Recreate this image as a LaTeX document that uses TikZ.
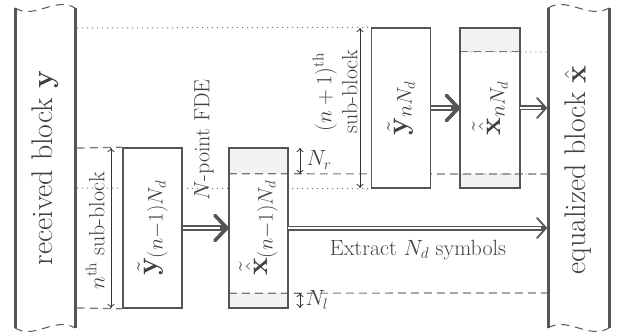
\RequirePackage{fix-cm}
\documentclass[tikz,border=0pt]{standalone}
\usepackage{amsmath}
\usetikzlibrary{arrows.meta}
\definecolor{ln}{HTML}{555555}
\definecolor{tx}{HTML}{404040}
\definecolor{shd}{HTML}{F2F2F2}
\definecolor{dl}{HTML}{777777}
\begin{document}
\begin{tikzpicture}[x=1pt,y=-1pt,
  every node/.style={text=tx, font=\fontsize{22}{26}\selectfont},
  bigfont/.style={font=\fontsize{29.86}{32}\selectfont},
  blockside/.style={draw=ln, line width=3pt},
  blockend/.style={draw=ln, line width=1pt, dash pattern=on 8pt off 6pt},
  ybox/.style={draw=ln, line width=1.5pt, fill=white, minimum width=59pt, minimum height=160pt, inner sep=0pt},
  xbox/.style={fill=white, minimum width=59pt, minimum height=160pt, inner sep=0pt},
  xborder/.style={draw=ln, line width=2pt},
  dashln/.style={draw=dl, line width=1.2pt, dash pattern=on 8pt off 5pt},
  dotln/.style={draw=dl, line width=1pt, dash pattern=on 1pt off 4pt},
  span/.style={draw=black!80, line width=0.8pt, {To[length=4pt,width=7pt]}-{To[length=4pt,width=7pt]}},
  fatarrow/.style={draw=ln, line width=6pt, -{Straight Barb[length=12pt, width=25pt, line width=3.6pt, round]}},
  fatgap/.style={draw=white, line width=2pt, shorten >=9pt},
  thinarrow/.style={draw=ln, line width=5pt, -{Straight Barb[length=9pt, width=20pt, line width=1.8pt, round]}},
  thingap/.style={draw=white, line width=2pt, shorten >=6pt}
]
\useasboundingbox (0,0) rectangle (627,334);

% big blocks
\draw[blockside] (15,8) -- (15,328);
\draw[blockside] (75,8) -- (75,328);
\draw[blockend] (15,8) .. controls (35,20) and (55,-4) .. (75,8);
\draw[blockend] (15,328) .. controls (35,340) and (55,316) .. (75,328);
\draw[blockside] (548,8) -- (548,328);
\draw[blockside] (609,8) -- (609,328);
\draw[blockend] (548,8) .. controls (568,-4) and (589,20) .. (609,8);
\draw[blockend] (548,328) .. controls (568,316) and (589,340) .. (609,328);

\node[bigfont, rotate=90] (rx) at (45,168) {received block $\mathbf{y}$};
\node[bigfont, rotate=90] (eq) at (578,170) {equalized block $\hat{\mathbf{x}}$};

% coordinates
\coordinate (L28) at (77,28);
\coordinate (L188) at (77,188);
\coordinate (L148) at (77,148);
\coordinate (L308) at (77,308);
\coordinate (R174) at (547,174);
\coordinate (R293) at (547,293);
\coordinate (R52) at (547,52);
\coordinate (R228) at (547,228);
\coordinate (R108) at (547,108);

% dotted sub-block boundaries
\node[ybox, draw=none, fill=none] (yb2p) at (401,108) {};
\draw[dotln] (L28) -- (yb2p.north west);
\draw[dotln] (L188) -- (yb2p.south west);

% boxes of sub-block n
\node[ybox] (yb1) at (152.5,228) {};
\draw[dashln] (L148) -- (yb1.north west);
\draw[dashln] (L308) -- (yb1.south west);
\node[xbox] (xb1) at (258.5,228) {};
\fill[shd] (xb1.north west) rectangle ([yshift=-26pt]xb1.north east);
\fill[shd] (xb1.south west) rectangle ([yshift=15pt]xb1.south east);
\node[xbox] (xb2) at (490,108) {};
\fill[shd] (xb2.north west) rectangle ([yshift=-24pt]xb2.north east);
\fill[shd] (xb2.south west) rectangle ([yshift=14pt]xb2.south east);

% guide lines
\draw[dashln] ([yshift=-26pt]xb1.north west) -- (R174);
\draw[dashln] ([yshift=15pt]xb1.south west) -- (R293);
\draw[dashln] ([yshift=-24pt]xb2.north west) -- ([yshift=-24pt]xb2.north east);
\draw[dotln] ([yshift=-24pt]xb2.north west) -- (R52);
\draw[dotln] ([yshift=14pt]xb2.south west) -- (R174);

\node[ybox] (yb2) at (401,108) {};
\draw[xborder] (xb1.north west) rectangle (xb1.south east);
\draw[xborder] (xb2.north west) rectangle (xb2.south east);

% labels inside boxes
\node[bigfont, rotate=90] (ly1) at (yb1) {$\tilde{\mathbf{y}}_{(n-1)N_d}$};
\node[bigfont, rotate=90] (lx1) at (xb1) {$\tilde{\hat{\mathbf{x}}}_{(n-1)N_d}$};
\node[bigfont, rotate=90] (ly2) at (yb2) {$\tilde{\mathbf{y}}_{nN_d}$};
\node[bigfont, rotate=90] (lx2) at (xb2) {$\tilde{\hat{\mathbf{x}}}_{nN_d}$};

% arrows
\draw[fatarrow] (yb1.east) -- (xb1.west);
\draw[fatgap] (yb1.east) -- (xb1.west);
\draw[fatarrow] (yb2.east) -- (xb2.west);
\draw[fatgap] (yb2.east) -- (xb2.west);
\draw[thinarrow] (xb1.east) -- (R228);
\draw[thingap] (xb1.east) -- (R228);
\draw[thinarrow] (xb2.east) -- (R108);
\draw[thingap] (xb2.east) -- (R108);

% spans
\coordinate (n1) at (111,148);
\coordinate (n2) at (111,308);
\coordinate (m1) at (360,28);
\coordinate (m2) at (360,188);
\coordinate (r1) at (300,148);
\coordinate (r2) at (300,174);
\coordinate (l1) at (300,293);
\coordinate (l2) at (300,308);
\draw[span] (n1) -- (n2);
\draw[span] (m1) -- (m2);
\draw[span] (r1) -- (r2);
\draw[span] (l1) -- (l2);

% text labels
\node[rotate=90] (fde) at (204,140) {$N$-point FDE};
\node[rotate=90] (nth) at (95,231) {$n^{\mathrm{th}}$ sub-block};
\node[rotate=90, align=center] (mth) at (335,92) {$(n+1)^{\mathrm{th}}$\\sub-block};
\node (ext) at (418,250) {Extract $N_d$ symbols};
\node (nr) at (319,160) {$N_r$};
\node (nl) at (317,300) {$N_l$};
\end{tikzpicture}
\end{document}
